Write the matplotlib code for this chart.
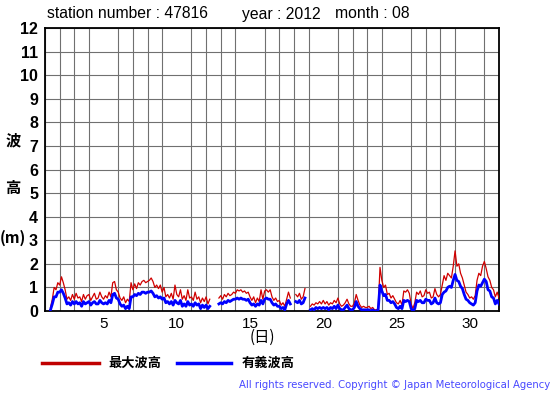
import matplotlib
matplotlib.use('Agg')
import matplotlib.pyplot as plt
from matplotlib.lines import Line2D
import numpy as np

nan = np.nan

# 3-hourly values (00,03,...,21h) for each day of August 2012, plus 32 00h
max_wave = [
    nan, nan, nan, 0.15, 0.5, 1.0, 0.9, 1.2,          # 1
    1.1, 1.45, 1.2, 0.9, 0.5, 0.6, 0.45, 0.7,         # 2
    0.5, 0.75, 0.55, 0.6, 0.4, 0.7, 0.5, 0.65,        # 3
    0.7, 0.45, 0.6, 0.75, 0.5, 0.55, 0.8, 0.6,        # 4
    0.5, 0.65, 0.55, 0.8, 0.6, 1.2, 1.25, 0.9,        # 5
    0.8, 0.55, 0.45, 0.6, 0.35, 0.5, 0.4, 1.2,        # 6
    0.9, 1.15, 0.95, 1.2, 1.1, 1.25, 1.3, 1.2,        # 7
    1.25, 1.3, 1.4, 1.25, 1.0, 1.1, 0.95, 1.1,        # 8
    0.8, 1.0, 0.6, 0.7, 0.55, 0.75, 0.5, 1.1,         # 9
    0.7, 0.6, 0.9, 0.5, 0.65, 0.45, 0.9, 0.55,        # 10
    0.6, 0.45, 0.8, 0.5, 0.6, 0.35, 0.55, 0.4,        # 11
    0.6, 0.3, 0.5, nan, nan, nan, nan, 0.55,          # 12
    0.65, 0.5, 0.7, 0.6, 0.75, 0.65, 0.7, 0.8,        # 13
    0.75, 0.9, 0.85, 0.9, 0.8, 0.85, 0.75, 0.8,       # 14
    0.6, 0.45, 0.6, 0.35, 0.55, 0.4, 0.9, 0.5,        # 15
    0.85, 0.9, 0.8, 0.9, 0.6, 0.45, 0.55, 0.4,        # 16
    0.45, 0.25, 0.35, 0.2, 0.5, 0.8, 0.55, nan,       # 17
    nan, 0.7, 0.6, 0.75, 0.5, 0.6, 0.95, nan,         # 18
    nan, 0.2, 0.3, 0.25, 0.35, 0.3, 0.4, 0.3,         # 19
    0.45, 0.3, 0.4, 0.25, 0.35, 0.3, 0.45, 0.35,      # 20
    0.55, 0.3, 0.2, 0.25, 0.35, 0.5, 0.3, 0.2,        # 21
    0.2, 0.35, 0.7, 0.45, 0.25, 0.15, 0.2, 0.15,      # 22
    0.15, 0.2, 0.1, 0.15, 0.05, 0.05, 0.1, 1.85,      # 23
    1.3, 1.0, 1.1, 0.7, 0.75, 0.55, 0.65, 0.5,        # 24
    0.35, 0.3, 0.45, 0.25, 0.85, 0.8, 0.9, 0.75,      # 25
    0.3, 0.1, 0.35, 0.8, 0.7, 0.85, 0.6, 0.65,        # 26
    0.9, 0.75, 0.8, 0.55, 0.6, 0.95, 0.7, 0.6,        # 27
    0.7, 1.1, 1.5, 1.3, 1.6, 1.5, 1.4, 1.9,           # 28
    2.55, 1.9, 2.0, 1.6, 1.4, 1.1, 0.8, 0.7,          # 29
    0.55, 0.6, 0.5, 0.65, 1.3, 1.6, 1.5, 1.9,         # 30
    2.1, 1.8, 1.45, 1.3, 1.0, 0.9, 0.6, 0.8,          # 31
    0.55,
]
sig_wave = [
    nan, nan, nan, 0.05, 0.3, 0.6, 0.6, 0.8,          # 1
    0.8, 0.9, 0.75, 0.55, 0.3, 0.35, 0.25, 0.4,       # 2
    0.3, 0.4, 0.3, 0.35, 0.2, 0.4, 0.3, 0.35,         # 3
    0.4, 0.25, 0.35, 0.4, 0.3, 0.3, 0.45, 0.35,       # 4
    0.3, 0.35, 0.3, 0.45, 0.35, 0.7, 0.75, 0.55,      # 5
    0.5, 0.3, 0.2, 0.25, 0.1, 0.2, 0.1, 0.6,          # 6
    0.6, 0.7, 0.65, 0.75, 0.7, 0.8, 0.8, 0.75,        # 7
    0.8, 0.8, 0.85, 0.75, 0.6, 0.65, 0.55, 0.6,       # 8
    0.5, 0.55, 0.35, 0.4, 0.3, 0.4, 0.25, 0.45,       # 9
    0.35, 0.3, 0.45, 0.2, 0.3, 0.2, 0.4, 0.25,        # 10
    0.3, 0.2, 0.35, 0.25, 0.3, 0.1, 0.25, 0.15,       # 11
    0.25, 0.1, 0.2, nan, nan, nan, nan, 0.3,          # 12
    0.35, 0.3, 0.4, 0.35, 0.45, 0.4, 0.45, 0.5,       # 13
    0.5, 0.55, 0.5, 0.55, 0.5, 0.5, 0.45, 0.5,        # 14
    0.35, 0.25, 0.3, 0.2, 0.3, 0.25, 0.45, 0.3,       # 15
    0.5, 0.55, 0.5, 0.5, 0.35, 0.25, 0.3, 0.2,        # 16
    0.2, 0.1, 0.15, 0.05, 0.3, 0.45, 0.3, nan,        # 17
    nan, 0.4, 0.35, 0.45, 0.3, 0.35, 0.55, nan,       # 18
    nan, 0.05, 0.1, 0.05, 0.15, 0.1, 0.15, 0.1,       # 19
    0.15, 0.1, 0.15, 0.05, 0.15, 0.1, 0.2, 0.1,       # 20
    0.25, 0.1, 0.05, 0.05, 0.15, 0.25, 0.1, 0.05,     # 21
    0.05, 0.15, 0.4, 0.2, 0.1, 0.05, 0.05, 0.05,      # 22
    0.05, 0.05, 0.0, 0.05, 0.0, 0.0, 0.05, 1.1,       # 23
    0.85, 0.65, 0.7, 0.45, 0.45, 0.35, 0.4, 0.3,      # 24
    0.15, 0.1, 0.2, 0.1, 0.45, 0.4, 0.45, 0.4,        # 25
    0.1, 0.0, 0.1, 0.45, 0.4, 0.45, 0.35, 0.35,       # 26
    0.5, 0.45, 0.45, 0.3, 0.35, 0.55, 0.35, 0.3,      # 27
    0.35, 0.7, 0.8, 0.85, 1.0, 1.05, 1.0, 1.3,        # 28
    1.55, 1.3, 1.25, 1.05, 0.95, 0.7, 0.5, 0.45,      # 29
    0.35, 0.3, 0.25, 0.35, 0.85, 1.1, 1.05, 1.2,      # 30
    1.35, 1.25, 0.9, 0.85, 0.6, 0.55, 0.3, 0.45,      # 31
    0.3,
]
day_ticks = [5, 10, 15, 20, 25, 30]
height_ticks = list(range(0, 13))

days = 1 + np.arange(len(max_wave)) * 3 / 24

font = 'Liberation Sans'
cjk = ['Noto Sans CJK JP', 'DejaVu Sans']

fig = plt.figure(figsize=(5.55, 3.95), dpi=100)
ax = fig.add_axes([45 / 555, 84 / 395, 454 / 555, 283 / 395])

ax.plot(days, max_wave, color='#d00000', lw=0.9, zorder=3)
ax.plot(days, sig_wave, color='#0000ff', lw=2.0, zorder=4)

ax.set_xlim(1, 32)
ax.set_ylim(0, 12)
ax.set_xticks(range(1, 33), minor=True)
ax.set_yticks(height_ticks)
ax.set_xticks(day_ticks)
ax.set_xticklabels([str(d) for d in day_ticks], fontsize=11, family=font)
ax.set_yticklabels([str(h) for h in height_ticks], fontsize=11.5,
                   fontweight='bold', family=font)
ax.tick_params(which='both', length=0)
ax.tick_params(axis='x', pad=4)
ax.tick_params(axis='y', pad=5)
ax.grid(which='minor', axis='x', color='#707070', lw=0.8)
ax.grid(which='major', axis='y', color='#707070', lw=0.8)
for s in ax.spines.values():
    s.set_linewidth(1.3)

fig.text(47 / 555, 1 - 14 / 395, 'station number : 47816', fontsize=11.3,
         family=font, va='center')
fig.text(242 / 555, 1 - 14 / 395, 'year : 2012', fontsize=11.3,
         family=font, va='center')
fig.text(335 / 555, 1 - 14 / 395, 'month : 08', fontsize=11.3,
         family=font, va='center')

fig.text(13 / 555, 1 - 140 / 395, '波', fontsize=11, fontweight='bold',
         family=cjk, ha='center', va='center')
fig.text(13 / 555, 1 - 188 / 395, '高', fontsize=11, fontweight='bold',
         family=cjk, ha='center', va='center')
fig.text(13 / 555, 1 - 238 / 395, '(m)', fontsize=11, fontweight='bold',
         family=cjk, ha='center', va='center')
fig.text(262 / 555, 1 - 337 / 395, '(日)', fontsize=11,
         family=cjk, ha='center', va='center')

fig.add_artist(Line2D([42 / 555, 99 / 555], [1 - 363 / 395] * 2,
                      color='#c00000', lw=2.5))
fig.text(108 / 555, 1 - 363 / 395, '最大波高', fontsize=9.5, fontweight='bold',
         family=cjk, va='center')
fig.add_artist(Line2D([177 / 555, 231 / 555], [1 - 363 / 395] * 2,
                      color='#0000ff', lw=2.5))
fig.text(242 / 555, 1 - 363 / 395, '有義波高', fontsize=9.5, fontweight='bold',
         family=cjk, va='center')

fig.text(550 / 555, 1 - 385 / 395,
         'All rights reserved. Copyright © Japan Meteorological Agency',
         fontsize=7.3, family='DejaVu Sans', color='#4848ff', ha='right',
         va='center')

fig.savefig('out.png', dpi=100)
